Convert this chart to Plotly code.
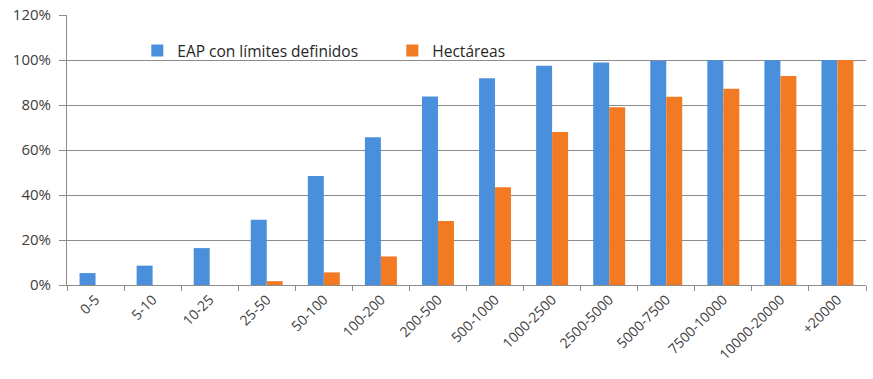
import plotly.graph_objects as go

categories = ["0-5", "5-10", "10-25", "25-50", "50-100", "100-200", "200-500",
              "500-1000", "1000-2500", "2500-5000", "5000-7500", "7500-10000",
              "10000-20000", "+20000"]
eap_pct = [5.3, 8.6, 16.4, 29.0, 48.4, 65.7, 83.8, 91.9, 97.5, 98.9, 99.7, 99.9, 99.9, 100.0]
hectareas_pct = [0.0, 0.0, 0.0, 1.7, 5.6, 12.7, 28.5, 43.5, 68.0, 79.0, 83.7, 87.2, 92.9, 100.0]

blue = "#4a8fdb"
orange = "#f27a22"
font_family = "Open Sans, Liberation Sans, sans-serif"

fig = go.Figure()
fig.add_trace(go.Bar(x=categories, y=eap_pct, name="EAP con límites definidos",
                     marker=dict(color=blue, line=dict(width=0))))
fig.add_trace(go.Bar(x=categories, y=hectareas_pct, name="Hectáreas",
                     marker=dict(color=orange, line=dict(width=0))))

fig.update_layout(
    width=873, height=379,
    margin=dict(l=67, r=7, t=15, b=94),
    paper_bgcolor="white", plot_bgcolor="white",
    barmode="group", bargap=0.44, bargroupgap=0,
    font=dict(family=font_family, size=14, color="#404040"),
    legend=dict(orientation="h", x=0.088, y=0.93, xanchor="left", yanchor="top",
                bgcolor="rgba(255,255,255,0)",
                font=dict(size=15.5, color="#262626"), itemwidth=30,
                entrywidth=210, entrywidthmode="pixels",
                traceorder="normal"),
    xaxis=dict(tickangle=-45, showline=True, linecolor="#8c8c8c", linewidth=1,
               ticks="outside", tickson="boundaries", ticklen=5, tickcolor="#8c8c8c",
               showgrid=False, automargin=False,
               tickfont=dict(size=14, color="#404040")),
    yaxis=dict(range=[0, 120], dtick=20, ticksuffix="%", showgrid=True,
               gridcolor="#8c8c8c", gridwidth=1, showline=True, linecolor="#8c8c8c",
               ticks="outside", ticklen=7, tickcolor="#8c8c8c", zeroline=False,
               ticklabelstandoff=5, automargin=False,
               tickfont=dict(size=15, color="#404040")),
)

fig.write_html("out.html")
